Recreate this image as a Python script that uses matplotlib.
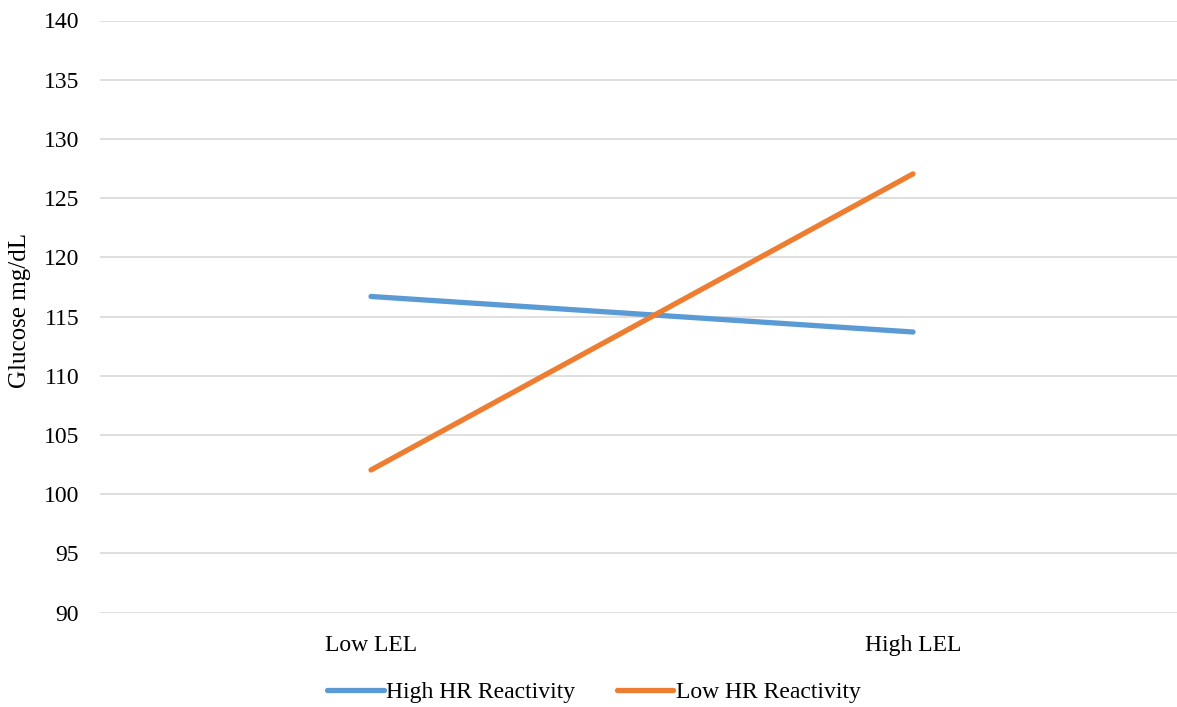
import matplotlib
matplotlib.use("Agg")
import matplotlib.pyplot as plt

categories = ["Low LEL", "High LEL"]
high_hr = [116.7, 113.7]
low_hr = [102.05, 127.05]
series_names = ["High HR Reactivity", "Low HR Reactivity"]
y_ticks = [90, 95, 100, 105, 110, 115, 120, 125, 130, 135, 140]

plt.rcParams["font.family"] = ["Liberation Serif", "DejaVu Serif"]

W, H = 1177, 707
fig = plt.figure(figsize=(W / 100, H / 100), dpi=100)
# Plot area runs slightly past the right edge of the canvas
left, right = 100, 1184
top, bottom = 20.5, 612.7
ax = fig.add_axes([left / W, 1 - bottom / H, (right - left) / W, (bottom - top) / H])

x = list(range(len(categories)))
ax.plot(x, high_hr, color="#5B9BD5", lw=3.8, solid_capstyle="round", label=series_names[0], zorder=3)
ax.plot(x, low_hr, color="#ED7D31", lw=3.8, solid_capstyle="round", label=series_names[1], zorder=3)

ax.set_xlim(-0.5, 1.5)
ax.set_ylim(90, 140)
ax.set_yticks(y_ticks)
ax.set_yticklabels([str(v) for v in y_ticks])
ax.set_xticks(x)
ax.set_xticklabels(categories)
ax.tick_params(axis="both", length=0, labelsize=17, colors="#000000")
ax.tick_params(axis="y", pad=15)
ax.tick_params(axis="x", pad=16)
ax.yaxis.grid(True, color="#D9D9D9", lw=1.2)
ax.set_axisbelow(True)
for s in ax.spines.values():
    s.set_visible(False)

fig.text(20 / W, 1 - 310 / H, "Glucose mg/dL", rotation=90, fontsize=18, ha="center", va="center")

fig.legend(loc="center", bbox_to_anchor=(594 / W, 1 - 692 / H), ncol=2, frameon=False,
           fontsize=17, handlelength=2.4, handletextpad=0.1, columnspacing=1.75)

fig.savefig("out.png", dpi=100)
